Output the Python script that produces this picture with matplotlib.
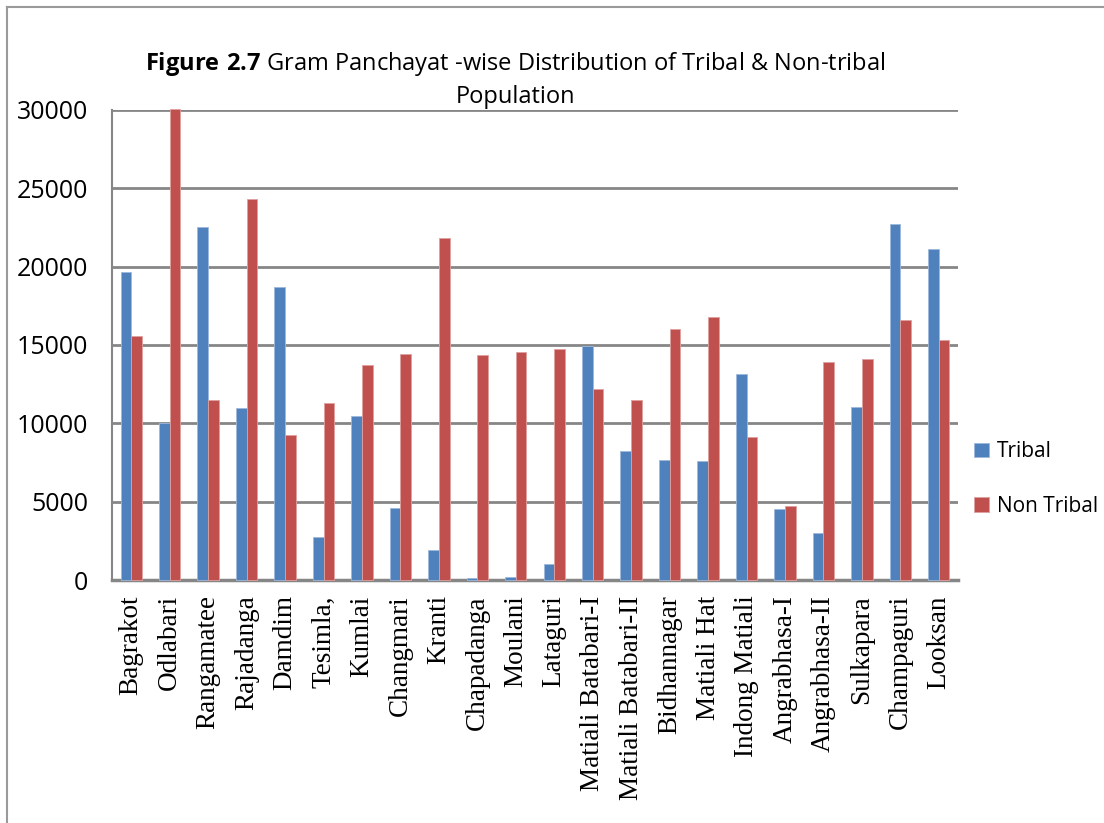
import numpy as np
import matplotlib
matplotlib.use("Agg")
import matplotlib.pyplot as plt
from matplotlib.lines import Line2D

plt.rcParams["mathtext.fontset"] = "custom"
plt.rcParams["mathtext.rm"] = "Open Sans"
plt.rcParams["mathtext.bf"] = "Open Sans:bold"

# gram panchayat populations
panchayats = ["Bagrakot", "Odlabari", "Rangamatee", "Rajadanga", "Damdim",
              "Tesimla,", "Kumlai", "Changmari", "Kranti", "Chapadanga",
              "Moulani", "Lataguri", "Matiali Batabari-I", "Matiali Batabari-II",
              "Bidhannagar", "Matiali Hat", "Indong Matiali", "Angrabhasa-I",
              "Angrabhasa-II", "Sulkapara", "Champaguri", "Looksan"]
tribal = [19640, 10000, 22500, 10960, 18700, 2720, 10470, 4600, 1900, 150,
          210, 1000, 14960, 8250, 7660, 7600, 13130, 4530, 2980, 11040,
          22700, 21110]
non_tribal = [15600, 30050, 11500, 24300, 9250, 11280, 13720, 14400, 21850,
              14340, 14530, 14740, 12190, 11490, 16020, 16770, 9100, 4700,
              13890, 14090, 16620, 15320]
yticks = [0, 5000, 10000, 15000, 20000, 25000, 30000]

blue = "#4F81BD"
red = "#C0504D"
grid = "#868686"

fig = plt.figure(figsize=(11.04, 8.23), dpi=100)
W, H = 1104, 823
ax = fig.add_axes([112 / W, 1 - 580 / H, (958 - 112) / W, (580 - 110) / H])

x = np.arange(len(panchayats))
bw = 0.278
ax.bar(x - bw / 2, tribal, bw, color=blue, edgecolor="#9db8dc", linewidth=0.6,
       zorder=3, clip_on=False, label="Tribal")
ax.bar(x + bw / 2, non_tribal, bw, color=red, edgecolor="#e0a09e", linewidth=0.6,
       zorder=3, clip_on=False, label="Non Tribal")

ax.set_xlim(-0.5, len(panchayats) - 0.5)
ax.set_ylim(0, 30000)
ax.set_yticks(yticks)
ax.set_yticklabels([str(v) for v in yticks], fontfamily="Open Sans", fontsize=18)
ax.yaxis.grid(True, color=grid, linewidth=2)
ax.set_axisbelow(True)
ax.tick_params(axis="y", length=0, pad=17)
ax.tick_params(axis="x", length=0, pad=11)
ax.set_xticks(x)
ax.set_xticklabels(panchayats, rotation=90, fontfamily="Liberation Serif", fontsize=19.5,
                   va="top")
for s in ["top", "right"]:
    ax.spines[s].set_visible(False)
ax.spines["left"].set_color(grid)
ax.spines["left"].set_linewidth(1.5)
ax.spines["bottom"].set_color(grid)
ax.spines["bottom"].set_linewidth(2.5)

# title, bold figure number followed by plain text
fig.text(515 / W, 1 - 64 / H, r"$\bf{Figure\ 2.7}$ Gram Panchayat -wise Distribution of Tribal & Non-tribal",
         ha="center", va="center", fontfamily="Open Sans", fontsize=17)
fig.text(515 / W, 1 - 97 / H, "Population", ha="center", va="center",
         fontfamily="Open Sans", fontsize=17)

leg = fig.legend(loc="center left", bbox_to_anchor=(966 / W, 1 - 479 / H),
                 frameon=False, prop={"family": "Open Sans", "size": 15},
                 handlelength=0.7, handleheight=0.7, handletextpad=0.4,
                 labelspacing=1.6, borderaxespad=0)

# outer frame lines on the top and left
fig.add_artist(Line2D([7 / W, 7 / W], [0, 1 - 7 / H], color="#9a9a9a", linewidth=1.5))
fig.add_artist(Line2D([7 / W, 1], [1 - 7 / H, 1 - 7 / H], color="#9a9a9a", linewidth=1.5))

fig.savefig("out.png", dpi=100)
